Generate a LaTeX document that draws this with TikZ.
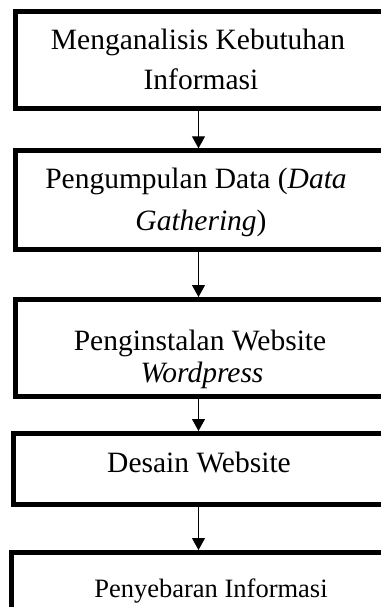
\documentclass[tikz,border=0pt]{standalone}
\usepackage{fontspec}
\setmainfont{Liberation Serif}
\usetikzlibrary{arrows.meta}
\tikzset{
  box/.style={draw=black, line width=5pt, rectangle, anchor=north west, inner sep=0pt, minimum width=376.7pt},
  txt/.style={anchor=base, inner sep=0pt, font=\fontsize{29.5}{34}\selectfont},
  smalltxt/.style={anchor=base, inner sep=0pt, font=\fontsize{26.5}{32}\selectfont},
  arr/.style={draw=black, line width=1pt, -{Triangle[width=13pt,length=12pt]}}
}
\begin{document}
\begin{tikzpicture}[x=1pt,y=-1pt]
\useasboundingbox (0,0) rectangle (380,607);
% boxes
\node[box, minimum height=96.7pt] (b1) at (13.3,9.3) {};
\node[box, minimum height=99pt] (b2) at (13.3,148.3) {};
\node[box, minimum height=97pt] (b3) at (13.3,297) {};
\node[box, minimum height=71pt, minimum width=379pt] (b4) at (11,431) {};
\node[box, minimum height=95pt, minimum width=381pt] (b5) at (9,550) {};
% texts
\node[txt] (t1a) at (198,50) {Menganalisis Kebutuhan};
\node[txt] (t1b) at (201,90) {Informasi};
\node[txt] (t2a) at (196,188) {Pengumpulan Data (\textit{Data}};
\node[txt] (t2b) at (201,230) {\textit{Gathering})};
\node[txt] (t3a) at (200,350) {Penginstalan Website};
\node[txt] (t3b) at (202,382) {\textit{Wordpress}};
\node[txt] (t4) at (199,472) {Desain Website};
\node[smalltxt] (t5) at (211,597) {Penyebaran Informasi};
% connectors
\coordinate (ax) at (198.5,0);
\draw[arr] (b1.south -| ax) -- (b2.north -| ax);
\draw[arr] (b2.south -| ax) -- (b3.north -| ax);
\draw[arr] (b3.south -| ax) -- (b4.north -| ax);
\draw[arr] (b4.south -| ax) -- (b5.north -| ax);
\end{tikzpicture}
\end{document}
